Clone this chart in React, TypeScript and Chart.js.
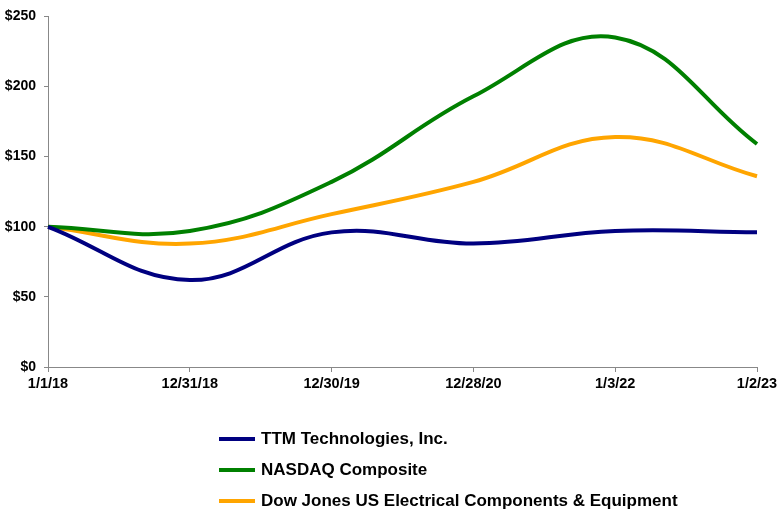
import React, { useEffect, useRef } from "react";
import { Chart, registerables } from "chart.js";

Chart.register(...registerables);

const categories = ["1/1/18", "12/31/18", "12/30/19", "12/28/20", "1/3/22", "1/2/23"];
const ttmValues = [100, 62, 96, 88, 97, 96];
const nasdaqValues = [100, 97, 132, 193, 235, 159];
const dowValues = [100, 88, 109, 132, 164, 136];
const seriesNames = [
  "TTM Technologies, Inc.",
  "NASDAQ Composite",
  "Dow Jones US Electrical Components & Equipment",
];
const seriesColors = ["#000080", "#008000", "#FFA500"];
const yTicks = [0, 50, 100, 150, 200, 250];

const FONT = "'Liberation Sans', Arial, sans-serif";

export default function App() {
  const canvasRef = useRef<HTMLCanvasElement | null>(null);

  useEffect(() => {
    document.body.style.margin = "0";
    const ctx = canvasRef.current;
    if (!ctx) return;
    const seriesValues = [ttmValues, nasdaqValues, dowValues];
    const chart = new Chart(ctx, {
      type: "line",
      data: {
        labels: categories,
        datasets: seriesNames.map((name, i) => ({
          label: name,
          data: seriesValues[i],
          borderColor: seriesColors[i],
          backgroundColor: seriesColors[i],
          borderWidth: 4,
          pointRadius: 0,
          tension: 0.4,
          fill: false,
        })),
      },
      options: {
        animation: false,
        responsive: false,
        devicePixelRatio: 1,
        layout: { padding: { top: 14, right: 24, bottom: 118, left: 0 } },
        plugins: {
          legend: { display: false },
          tooltip: { enabled: false },
        },
        scales: {
          x: {
            offset: false,
            grid: {
              display: true,
              drawOnChartArea: false,
              drawTicks: true,
              tickLength: 5,
              color: "#888888",
            },
            border: { display: true, color: "#888888", width: 1 },
            ticks: {
              color: "#000000",
              font: { family: FONT, size: 14.5, weight: "bold" },
              padding: 3,
              maxRotation: 0,
              autoSkip: false,
            },
            afterFit: (scale: any) => {
              scale.height = 30;
            },
          },
          y: {
            min: 0,
            max: 250,
            afterBuildTicks: (scale: any) => {
              scale.ticks = yTicks.map((v) => ({ value: v }));
            },
            grid: {
              display: true,
              drawOnChartArea: false,
              drawTicks: true,
              tickLength: 4,
              color: "#888888",
            },
            border: { display: true, color: "#888888", width: 1 },
            ticks: {
              color: "#000000",
              font: { family: FONT, size: 14, weight: "bold" },
              padding: 8,
              callback: (v: any) => "$" + v,
            },
            afterFit: (scale: any) => {
              scale.width = 48;
            },
          },
        },
      },
    });
    return () => chart.destroy();
  }, []);

  return (
    <div style={{ position: "relative", width: 781, height: 515, background: "#fff" }}>
      <canvas ref={canvasRef} width={781} height={515} style={{ display: "block" }} />
      <div style={{ position: "absolute", left: 219, top: 423, fontFamily: FONT }}>
        {seriesNames.map((name, i) => (
          <div
            key={name}
            style={{ display: "flex", alignItems: "center", height: 31 }}
          >
            <div style={{ width: 36, height: 4, background: seriesColors[i], marginRight: 6 }} />
            <span style={{ fontSize: 17, fontWeight: "bold", color: "#000", whiteSpace: "nowrap" }}>
              {name}
            </span>
          </div>
        ))}
      </div>
    </div>
  );
}
